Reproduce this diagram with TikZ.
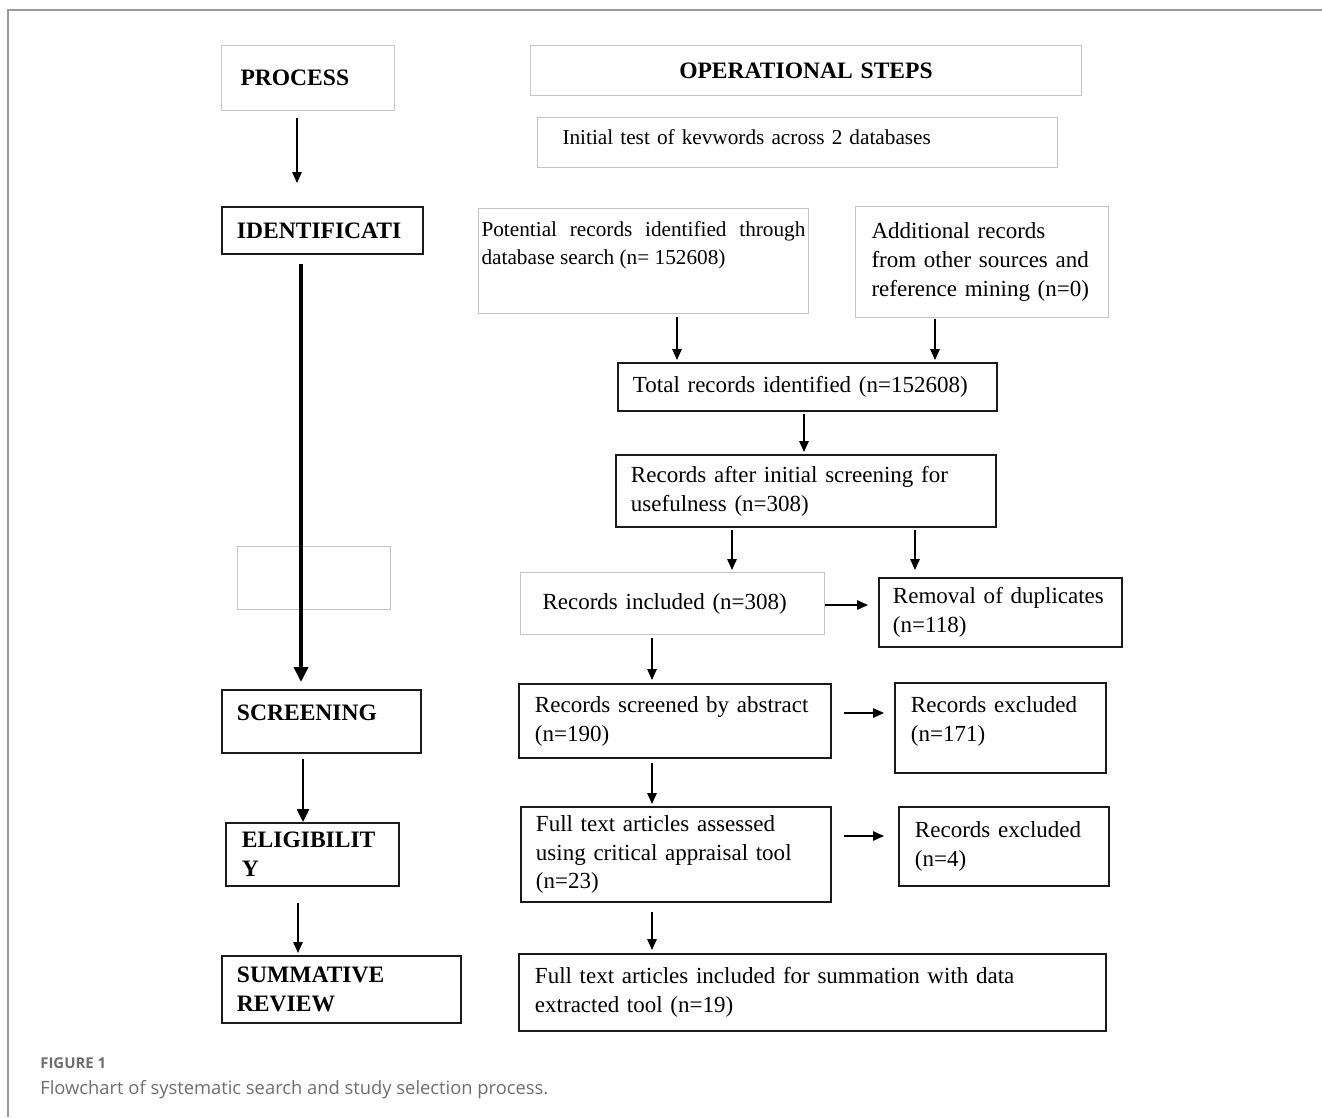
\documentclass[tikz,border=0pt]{standalone}
\usepackage{fontspec}
\setmainfont{Liberation Serif}
\newfontfamily\captionFont{Open Sans}
\usetikzlibrary{arrows.meta}

\begin{document}
\begin{tikzpicture}[x=0.02cm, y=-0.02cm,
    box/.style={anchor=north west, inner xsep=0.3cm, inner ysep=0pt, align=left,
        font=\fontsize{13.1}{16.5}\selectfont},
    darkBox/.style={box, draw=borderColour, line width=1.1pt},
    paleBox/.style={box, draw=paleColour, line width=0.6pt},
    heading/.style={font=\fontsize{13.4}{16.5}\selectfont\bfseries},
    smallText/.style={font=\fontsize{12.1}{15.9}\selectfont},
    flow/.style={-{Triangle[length=2.2mm, width=1.9mm]}, line width=0.8pt},
    heavyFlow/.style={-{Triangle[length=3mm, width=2.8mm]}, line width=2pt},
    midFlow/.style={-{Triangle[length=2.6mm, width=2.4mm]}, line width=1.4pt},
  ]
    \definecolor{borderColour}{HTML}{1A1A1A}
    \definecolor{paleColour}{HTML}{C4C4C4}
    \definecolor{frameColour}{HTML}{9A9A9A}
    \definecolor{captionColour}{HTML}{6E6E6E}

    % Page size and figure frame
    \useasboundingbox (0,0) rectangle (1322,1117);
    \draw[frameColour, line width=1.2pt] (8,1117) -- (8,10) -- (1322,10);

    % Left column: process stages
    \node[paleBox, heading, minimum width=3.46cm, minimum height=1.30cm, inner xsep=0.38cm, text width=2.70cm] (process) at (221,45) {PROCESS};
    \node[darkBox, heading, minimum width=4.02cm, minimum height=0.94cm, text width=3.42cm] (ident) at (221,206) {IDENTIFICATI};
    \node[paleBox, minimum width=3.06cm, minimum height=1.26cm] (blank) at (237,546) {};
    \node[darkBox, heading, minimum width=3.98cm, text width=3.38cm, text height=0.62cm, text depth=0.64cm] (screening) at (221,689) {SCREENING};
    \node[darkBox, heading, minimum width=3.46cm, minimum height=1.26cm, inner xsep=0.32cm, text width=2.82cm] (elig) at (225,822) {ELIGIBILIT\\Y};
    \node[darkBox, heading, minimum width=4.78cm, minimum height=1.34cm, text width=4.18cm] (summ) at (221,955) {SUMMATIVE\\REVIEW};

    % Right column: operational steps
    \node[paleBox, heading, minimum width=11.02cm, minimum height=1.0cm, text width=10.42cm, align=center] (opsteps) at (530,45) {OPERATIONAL STEPS};
    \node[paleBox, smallText, minimum width=10.4cm, inner xsep=0.5cm, text width=9.4cm, text height=0.54cm, text depth=0.46cm] (initial) at (537,117) {Initial test of kevwords across 2 databases};
    \node[paleBox, smallText, inner xsep=0.06cm, text width=6.48cm, align=justify, text height=0.56cm, text depth=1.54cm] (potential) at (478,208) {Potential records identified through database search (n=~152608)};
    \node[paleBox, minimum width=5.06cm, minimum height=2.22cm, inner xsep=0.32cm, text width=4.42cm] (additional) at (855,206) {Additional records\\from other sources and\\reference mining (n=0)};
    \node[darkBox, minimum width=7.58cm, minimum height=0.96cm, text width=6.98cm] (total) at (617,362) {Total records identified (n=152608)};
    \node[darkBox, minimum width=7.6cm, minimum height=1.44cm, text width=7.0cm] (after) at (615,454) {Records after initial screening for\\usefulness (n=308)};
    \node[paleBox, minimum width=6.08cm, minimum height=1.24cm, inner xsep=0.44cm, text width=5.2cm] (included) at (520,572) {Records included (n=308)};
    \node[darkBox, minimum width=4.86cm, minimum height=1.38cm, inner xsep=0.28cm, text width=4.3cm] (removal) at (878,577) {Removal of duplicates\\(n=118)};
    \node[darkBox, minimum width=6.24cm, minimum height=1.48cm, inner xsep=0.32cm, text width=5.6cm] (screened) at (518,683) {Records screened by abstract\\(n=190)};
    \node[darkBox, minimum width=4.22cm, inner xsep=0.32cm, text width=3.58cm, text height=0.6cm, text depth=1.2cm] (exclA) at (894,682) {Records excluded\\(n=171)};
    \node[darkBox, minimum width=6.2cm, minimum height=1.9cm, text width=5.6cm] (assessed) at (520,806) {Full text articles assessed\\using critical appraisal tool\\(n=23)};
    \node[darkBox, minimum width=4.2cm, minimum height=1.58cm, inner xsep=0.32cm, text width=3.56cm] (exclB) at (898,806) {Records excluded\\(n=4)};
    \node[darkBox, minimum width=11.74cm, minimum height=1.54cm, inner xsep=0.32cm, text width=11.1cm] (final) at (518,953) {Full text articles included for summation with data\\extracted tool (n=19)};

    % Arrows between process stages
    \draw[flow, shorten <=0.14cm, shorten >=0.46cm] (297,0 |- process.south) -- (297,0 |- ident.north);
    \draw[heavyFlow, shorten <=0.18cm, shorten >=0.14cm] (301,0 |- ident.south) -- (301,0 |- screening.north);
    \draw[midFlow, shorten <=0.1cm] (303,0 |- screening.south) -- (303,0 |- elig.north);
    \draw[flow, shorten <=0.32cm, shorten >=0.04cm] (298,0 |- elig.south) -- (298,0 |- summ.north);

    % Arrows between operational steps
    \draw[flow, shorten <=0.06cm, shorten >=0.04cm] (677,0 |- potential.south) -- (677,0 |- total.north);
    \draw[flow, shorten <=0.02cm, shorten >=0.04cm] (935,0 |- additional.south) -- (935,0 |- total.north);
    \draw[flow, shorten <=0.04cm, shorten >=0.04cm] (804,0 |- total.south) -- (804,0 |- after.north);
    \draw[flow, shorten <=0.04cm, shorten >=0.04cm] (732,0 |- after.south) -- (732,0 |- included.north);
    \draw[flow, shorten <=0.04cm, shorten >=0.14cm] (915,0 |- after.south) -- (915,0 |- removal.north);
    \draw[flow, shorten >=0.2cm] (included.east |- 0,605) -- (removal.west |- 0,605);
    \draw[flow, shorten <=0.06cm, shorten >=0.06cm] (652,0 |- included.south) -- (652,0 |- screened.north);
    \draw[flow, shorten <=0.24cm, shorten >=0.2cm] (screened.east |- 0,713) -- (exclA.west |- 0,713);
    \draw[flow, shorten <=0.08cm, shorten >=0.04cm] (652,0 |- screened.south) -- (652,0 |- assessed.north);
    \draw[flow, shorten <=0.24cm, shorten >=0.28cm] (assessed.east |- 0,836) -- (exclB.west |- 0,836);
    \draw[flow, shorten <=0.18cm, shorten >=0.06cm] (652,0 |- assessed.south) -- (652,0 |- final.north);

    % Caption
    \node[anchor=base west, inner sep=0pt, text=captionColour, font=\captionFont\bfseries\fontsize{8.5}{10}\selectfont] (figLabel) at (40,1068) {FIGURE 1};
    \node[anchor=base west, inner sep=0pt, text=captionColour, font=\captionFont\fontsize{10.45}{12}\selectfont] (figCaption) at (40,1094) {Flowchart of systematic search and study selection process.};
\end{tikzpicture}
\end{document}
